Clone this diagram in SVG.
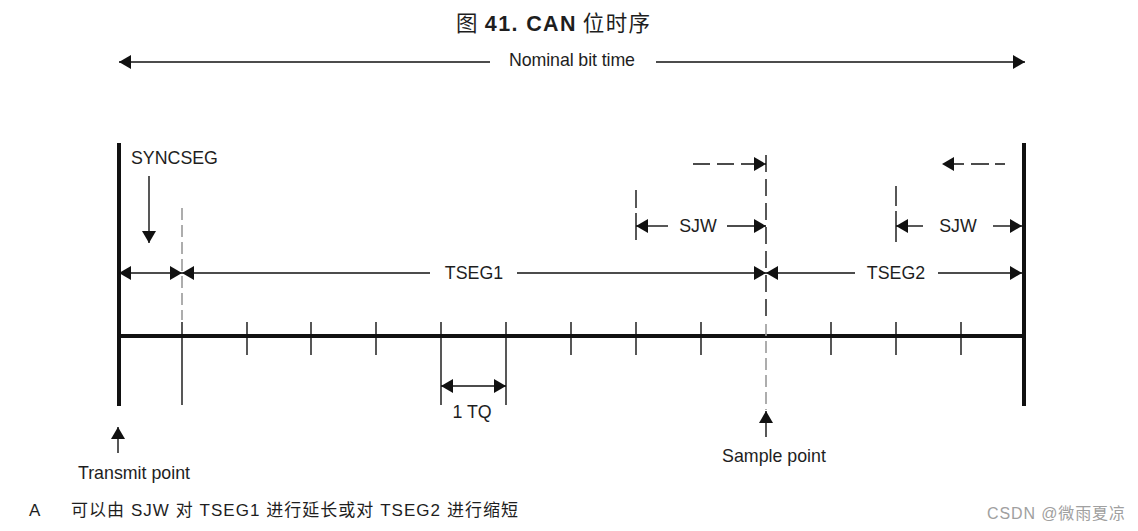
<svg xmlns="http://www.w3.org/2000/svg" width="1138" height="531" viewBox="0 0 1138 531">
<style>
text{font-family:"Liberation Sans","Noto Sans CJK SC",sans-serif;fill:#1e1e1e}
.lb{font-size:17.8px}
.thin{stroke:#111;stroke-width:1.4;fill:none}
.bar{stroke:#111;stroke-width:4;fill:none}
.dash{stroke:#111;stroke-width:1.4;stroke-dasharray:17 7;fill:none}
.gdash{stroke:#999;stroke-width:1.6;stroke-dasharray:12 5;fill:none}
.ah{marker-end:url(#ah)}
.ahs{marker-start:url(#ah)}
</style>
<defs>
<marker id="ah" markerUnits="userSpaceOnUse" markerWidth="13" markerHeight="14" refX="12" refY="7" orient="auto-start-reverse">
<path d="M0,0 L12,7 L0,14 z" fill="#111"/>
</marker>
</defs>
<rect width="1138" height="531" fill="#fff"/>
<g id="title">
<text x="456" y="31" font-size="21.5" textLength="194" lengthAdjust="spacing"><tspan font-family="Noto Sans CJK SC,sans-serif">图</tspan><tspan font-weight="bold" dx="6">41. CAN</tspan><tspan dx="6" font-family="Noto Sans CJK SC,sans-serif">位时序</tspan></text>
</g>
<g id="connectors">
<line class="thin ahs" x1="119" y1="62" x2="490" y2="62"/>
<line class="thin ah" x1="656" y1="62" x2="1025" y2="62"/>
<line class="bar" x1="119" y1="143" x2="119" y2="406"/>
<line class="bar" x1="1024" y1="143" x2="1024" y2="406"/>
<line class="bar" x1="119" y1="336" x2="1024" y2="336"/>
<line class="thin" x1="182" y1="322" x2="182" y2="405"/>
<line class="thin" x1="247" y1="322" x2="247" y2="355"/>
<line class="thin" x1="311" y1="322" x2="311" y2="355"/>
<line class="thin" x1="376" y1="322" x2="376" y2="355"/>
<line class="thin" x1="441" y1="322" x2="441" y2="405"/>
<line class="thin" x1="506" y1="322" x2="506" y2="405"/>
<line class="thin" x1="571" y1="322" x2="571" y2="355"/>
<line class="thin" x1="636" y1="322" x2="636" y2="355"/>
<line class="thin" x1="701" y1="322" x2="701" y2="355"/>
<line class="thin" x1="831" y1="322" x2="831" y2="355"/>
<line class="thin" x1="896" y1="322" x2="896" y2="355"/>
<line class="thin" x1="961" y1="322" x2="961" y2="355"/>
<line class="gdash" x1="182" y1="208" x2="182" y2="320"/>
<line class="dash" x1="766" y1="155" x2="766" y2="322"/>
<line class="gdash" x1="766" y1="324" x2="766" y2="410"/>
<line class="dash" x1="636" y1="190" x2="636" y2="240" style="stroke-dasharray:18 5 27 0"/>
<line class="dash" x1="896" y1="186" x2="896" y2="242" style="stroke-dasharray:20 5 31 0"/>
<line class="thin ahs ah" x1="119" y1="273" x2="182" y2="273"/>
<line class="thin ahs" x1="182" y1="273" x2="430" y2="273"/>
<line class="thin ah" x1="517" y1="273" x2="766" y2="273"/>
<line class="thin ahs" x1="766" y1="273" x2="855" y2="273"/>
<line class="thin ah" x1="938" y1="273" x2="1022" y2="273"/>
<line class="thin ahs" x1="636" y1="226" x2="668" y2="226"/>
<line class="thin ah" x1="727" y1="226" x2="766" y2="226"/>
<line class="thin ahs" x1="896" y1="226" x2="923" y2="226"/>
<line class="thin ah" x1="993" y1="226" x2="1022" y2="226"/>
<line class="dash ah" x1="693" y1="164" x2="766" y2="164"/>
<line class="dash ahs" x1="942" y1="164" x2="1005" y2="164" style="stroke-dasharray:0 6 16 7 18 0"/>
<line class="thin ah" x1="149" y1="176" x2="149" y2="243"/>
<line class="thin ahs ah" x1="441" y1="386" x2="506" y2="386"/>
<line class="thin ah" x1="766" y1="437" x2="766" y2="411"/>
<line class="thin ah" x1="118" y1="453" x2="118" y2="427"/>
</g>
<g id="labels">
<text class="lb" x="509" y="66" textLength="126">Nominal bit time</text>
<text class="lb" x="131" y="164">SYNCSEG</text>
<text class="lb" x="474" y="279" text-anchor="middle">TSEG1</text>
<text class="lb" x="896" y="279" text-anchor="middle">TSEG2</text>
<text class="lb" x="698" y="232" text-anchor="middle">SJW</text>
<text class="lb" x="958" y="232" text-anchor="middle">SJW</text>
<text class="lb" x="472" y="418" text-anchor="middle">1 TQ</text>
<text class="lb" x="774" y="462" text-anchor="middle">Sample point</text>
<text class="lb" x="134" y="479" text-anchor="middle">Transmit point</text>
</g>
<g id="note">
<text x="29" y="516" font-size="17">A</text>
<text x="71" y="516" font-size="17" textLength="447" lengthAdjust="spacing">可以由 SJW 对 TSEG1 进行延长或对 TSEG2 进行缩短</text>
</g>
<g id="watermark">
<text x="987" y="519" font-size="16" textLength="138" lengthAdjust="spacing" style="fill:#a0a0a0">CSDN @微雨夏凉</text>
</g>
</svg>
